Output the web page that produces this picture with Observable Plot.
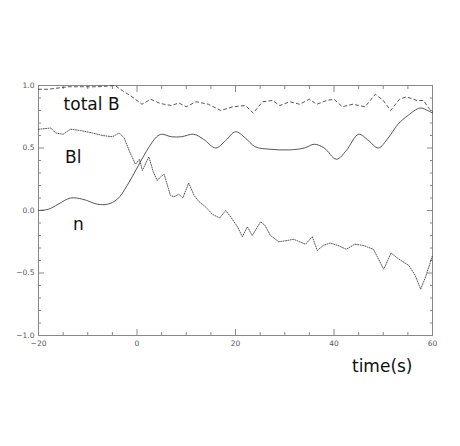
<!DOCTYPE html>
<html><head><meta charset="utf-8">
<script src="https://cdn.jsdelivr.net/npm/d3@7"></script>
<script src="https://cdn.jsdelivr.net/npm/@observablehq/plot@0.6"></script>
<style>body{margin:0;background:#fff}</style>
</head><body><div id="chart"></div>
<script>
// n (solid)
const nTime  = [-20,-18,-16,-13.5,-11,-8,-6,-4,-2,0,2,4,5,7,9,11.5,13.5,16,18,20,22,24,27,31,34,36,38,40.5,42.5,45,47,49,51,53,55,57.5,59,60];
const nValue = [0.00,0.01,0.05,0.10,0.09,0.05,0.05,0.09,0.20,0.34,0.48,0.59,0.61,0.59,0.59,0.61,0.57,0.50,0.56,0.63,0.58,0.51,0.49,0.485,0.50,0.53,0.50,0.41,0.48,0.61,0.56,0.50,0.58,0.69,0.76,0.82,0.80,0.78];
// total B (dashed)
const totalBTime  = [-20,-18,-16,-14,-12,-10,-8,-6,-4.5,-3,-1,1,2.8,4.5,5.5,7,8.5,10,12,14.5,17,19.5,22,23.6,25.5,27.5,29,31,33,35,36.5,38.5,40,41.7,43.8,46.3,48.4,50,51.5,53.3,54.7,56.8,58.2,59.2,60];
const totalBValue = [0.97,0.97,0.98,0.99,0.99,0.99,0.99,0.995,1.00,0.96,0.91,0.85,0.89,0.86,0.85,0.84,0.86,0.83,0.87,0.85,0.80,0.83,0.84,0.78,0.87,0.88,0.84,0.87,0.85,0.89,0.85,0.88,0.89,0.83,0.85,0.83,0.93,0.88,0.80,0.89,0.91,0.88,0.88,0.82,0.79];
// Bl (dotted)
const blTime  = [-20,-17.5,-16.5,-15,-13.5,-11.5,-9,-7,-5,-3.6,-2.6,-1.5,-0.3,0.5,1.1,2.4,3.3,4.1,4.8,5.5,6.8,7.5,8.5,9.3,10.5,11.6,12.6,13.9,15.3,16.8,18,19,20.4,21.4,22.4,23.4,25.1,26,27.1,28.8,30.5,31.8,34.2,35.6,36.6,37.8,39.2,40.8,42.5,44.2,46,48,50.1,51.6,53.2,55.2,56.5,57.6,58.6,59.6,60];
const blValue = [0.65,0.66,0.62,0.61,0.65,0.64,0.62,0.60,0.59,0.62,0.58,0.47,0.37,0.41,0.32,0.43,0.31,0.24,0.27,0.29,0.12,0.11,0.13,0.10,0.22,0.12,0.07,0.03,-0.03,-0.06,0.00,-0.05,-0.13,-0.21,-0.13,-0.20,-0.09,-0.12,-0.20,-0.25,-0.24,-0.23,-0.27,-0.21,-0.32,-0.28,-0.26,-0.28,-0.31,-0.27,-0.28,-0.31,-0.47,-0.34,-0.39,-0.44,-0.52,-0.63,-0.53,-0.41,-0.36];

const xMajorTicks = [-20,0,20,40,60];
const xMinorTicks = [-15,-10,-5,5,10,15,25,30,35,45,50,55];
const yMajorTicks = [-1.0,-0.5,0.0,0.5,1.0];
const yMinorTicks = [-0.9,-0.8,-0.7,-0.6,-0.4,-0.3,-0.2,-0.1,0.1,0.2,0.3,0.4,0.6,0.7,0.8,0.9];

const seriesLabels = ["total B","Bl","n"];
const labelTime  = [-14.9,-14.6,-13.0];
const labelValue = [0.845,0.42,-0.116];
const xTitle = "time(s)";

const toRows = (t, v) => t.map((d, i) => ({t: d, v: v[i]}));
const labels = seriesLabels.map((s, i) => ({s, t: labelTime[i], v: labelValue[i]}));

const axisColor = "#888";
const tickFont = 7.5;
const lineColor = "#444";
const noText = () => "";

const chart = Plot.plot({
  width: 460, height: 446,
  marginLeft: 38, marginRight: 28, marginTop: 85, marginBottom: 111,
  x: {domain: [-20, 60]},
  y: {domain: [-1, 1]},
  style: {fontFamily: "DejaVu Sans", background: "white"},
  marks: [
    Plot.frame({stroke: axisColor}),
    // bottom axis
    Plot.axisX(xMajorTicks, {anchor: "bottom", tickSize: -6, tickFormat: noText, stroke: axisColor, label: null}),
    Plot.axisX(xMinorTicks, {anchor: "bottom", tickSize: -3, tickFormat: noText, stroke: axisColor, label: null}),
    Plot.axisX(xMajorTicks, {anchor: "bottom", tickSize: 0, tickPadding: 5, fontSize: tickFont, fill: "#555", label: null}),
    // top axis
    Plot.axisX(xMajorTicks, {anchor: "top", tickSize: -6, tickFormat: noText, stroke: axisColor, label: null}),
    Plot.axisX(xMinorTicks, {anchor: "top", tickSize: -3, tickFormat: noText, stroke: axisColor, label: null}),
    // left axis
    Plot.axisY(yMajorTicks, {anchor: "left", tickSize: -6, tickFormat: noText, stroke: axisColor, label: null}),
    Plot.axisY(yMinorTicks, {anchor: "left", tickSize: -3, tickFormat: noText, stroke: axisColor, label: null}),
    Plot.axisY(yMajorTicks, {anchor: "left", tickSize: 0, tickPadding: 4, fontSize: tickFont, fill: "#555", tickFormat: d3.format(".1f"), label: null}),
    // right axis
    Plot.axisY(yMajorTicks, {anchor: "right", tickSize: -6, tickFormat: noText, stroke: axisColor, label: null}),
    Plot.axisY(yMinorTicks, {anchor: "right", tickSize: -3, tickFormat: noText, stroke: axisColor, label: null}),
    // series
    Plot.line(toRows(totalBTime, totalBValue), {x: "t", y: "v", stroke: lineColor, strokeWidth: 0.9, strokeDasharray: "3,3"}),
    Plot.line(toRows(blTime, blValue), {x: "t", y: "v", stroke: lineColor, strokeWidth: 0.9, strokeDasharray: "1,1.4"}),
    Plot.line(toRows(nTime, nValue), {x: "t", y: "v", stroke: lineColor, strokeWidth: 0.9, curve: "catmull-rom"}),
    // labels
    Plot.text(labels, {x: "t", y: "v", text: "s", textAnchor: "start", lineAnchor: "middle", fontSize: 17, fill: "#111"}),
    Plot.text([xTitle], {frameAnchor: "bottom-right", dx: -20, dy: 36, textAnchor: "end", lineAnchor: "bottom", fontSize: 17, fill: "#111"})
  ]
});
document.getElementById("chart").append(chart);
</script>
</body></html>
